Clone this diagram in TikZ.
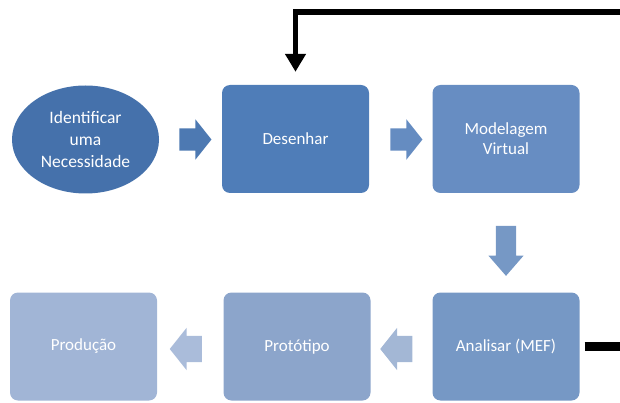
\documentclass[tikz,border=0pt]{standalone}
\usepackage{fontspec}
\setmainfont{Carlito}
\usetikzlibrary{shapes.geometric,shapes.arrows,arrows.meta}

\definecolor{azulA}{HTML}{4571AB}
\definecolor{azulB}{HTML}{4F7DB8}
\definecolor{azulC}{HTML}{678DC2}
\definecolor{azulD}{HTML}{7698C5}
\definecolor{azulE}{HTML}{8CA5CB}
\definecolor{azulF}{HTML}{A1B5D6}

\tikzset{
  etapa/.style={rounded corners=8pt, minimum width=147pt, minimum height=108pt,
    inner sep=0pt, text=white, align=center, font=\fontsize{17}{20}\selectfont},
  seta/.style={single arrow, single arrow head extend=9pt, single arrow tip angle=103,
    inner sep=0pt, inner ysep=11pt, minimum height=32pt},
  retorno/.style={line width=5.5pt, -{Triangle[width=20pt,length=18pt]}}
}

\begin{document}
\begin{tikzpicture}[x=1pt,y=-1pt]
  \useasboundingbox (0,0) rectangle (620,403);
  % etapas
  \node[ellipse, fill=azulA, minimum width=147pt, minimum height=108pt, inner sep=0pt,
    text=white, align=center, font=\fontsize{17.5}{22}\selectfont]
    (identificar) at (85.5,139.5) {Identificar\\uma\\Necessidade};
  \node[etapa, fill=azulB] (desenhar) at (295.5,139) {Desenhar};
  \node[etapa, fill=azulC] (modelagem) at (506,139) {Modelagem\\Virtual};
  \node[etapa, fill=azulD] (analisar) at (506,346.5) {Analisar (MEF)};
  \node[etapa, fill=azulE] (prototipo) at (297,346.5) {Protótipo};
  \node[etapa, fill=azulF] (producao) at (83.5,346.5) {Produção};
  % setas de bloco
  \node[seta, fill=azulB!97!black] (seta1) at (191,139.5) {};
  \node[seta, fill=azulC!92!azulB] (seta2) at (402,139.5) {};
  \node[seta, fill=azulD, single arrow head extend=7.5pt, single arrow tip angle=82,
    inner ysep=10pt, minimum height=50pt, rotate=-90] (seta3) at (506,245) {};
  \node[seta, fill=azulE!80!white, inner ysep=13pt, single arrow head extend=8pt,
    shape border rotate=180] (seta4) at (401.5,349) {};
  \node[seta, fill=azulF!90!white, inner ysep=13pt, single arrow head extend=8pt,
    shape border rotate=180] (seta5) at (191,349) {};
  % realimentacao
  \coordinate (topo) at (620,12);
  \coordinate (saida) at (620,346.5);
  \draw[retorno] (topo) -| ([yshift=13pt]desenhar.north);
  \draw[line width=9pt] ([xshift=5pt]analisar.east) -- (saida);
\end{tikzpicture}
\end{document}
